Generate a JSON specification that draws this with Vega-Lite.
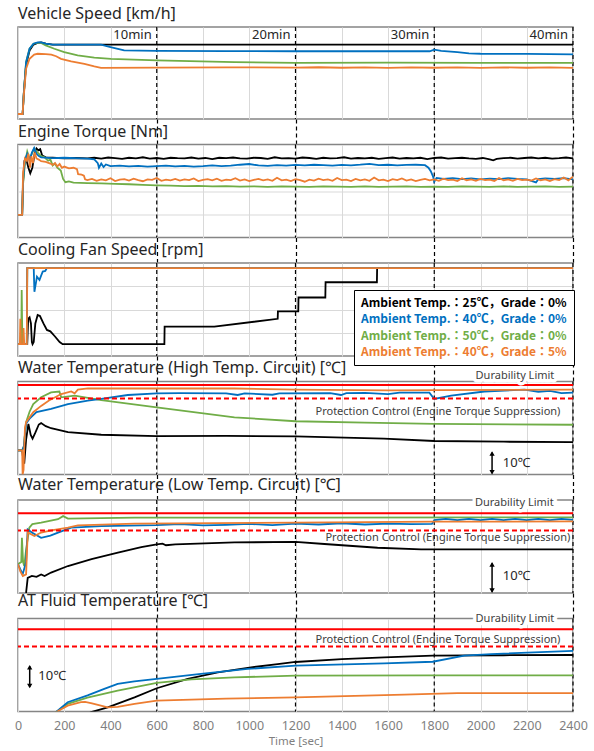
{
"$schema": "https://vega.github.io/schema/vega-lite/v6.json",
"padding": {"left": 13, "top": 5, "right": 2, "bottom": 2},
"bounds": "flush",
"spacing": 25.5,
"resolve": {"scale": {"x": "independent", "y": "independent", "color": "independent"}, "axis": {"x": "independent", "y": "independent"}, "legend": {"color": "independent"}},
"config": {
  "font": "Noto Sans",
  "view": {"stroke": "#858585", "strokeWidth": 1.5},
  "axis": {"gridColor": "#d9d9d9", "gridWidth": 1, "minExtent": 0},
  "title": {"anchor": "start", "frame": "group", "fontSize": 16, "fontWeight": "normal", "color": "#262626", "baseline": "alphabetic", "offset": 4, "font": "Noto Sans, Noto Sans CJK JP"}
},
"datasets": {
  "tm": [{"t":600,"m":"10min"},{"t":1200,"m":"20min"},{"t":1800,"m":"30min"},{"t":2400,"m":"40min"}],
  "spd": [
    {"s":"A","t":0,"v":6},{"s":"A","t":20,"v":6},{"s":"A","t":25,"v":30},{"s":"A","t":35,"v":65},{"s":"A","t":50,"v":82},{"s":"A","t":67,"v":89},{"s":"A","t":85,"v":91},{"s":"A","t":100,"v":91.5},{"s":"A","t":120,"v":90},{"s":"A","t":150,"v":89},{"s":"A","t":400,"v":89},{"s":"A","t":800,"v":89},{"s":"A","t":1200,"v":89},{"s":"A","t":1600,"v":89},{"s":"A","t":2000,"v":89},{"s":"A","t":2400,"v":89},
    {"s":"C","t":0,"v":6},{"s":"C","t":20,"v":6},{"s":"C","t":25,"v":30},{"s":"C","t":35,"v":68},{"s":"C","t":50,"v":84},{"s":"C","t":67,"v":90},{"s":"C","t":85,"v":91},{"s":"C","t":100,"v":91},{"s":"C","t":120,"v":88},{"s":"C","t":157,"v":84},{"s":"C","t":200,"v":80},{"s":"C","t":258,"v":76},{"s":"C","t":330,"v":73.5},{"s":"C","t":402,"v":72},{"s":"C","t":600,"v":70},{"s":"C","t":936,"v":68},{"s":"C","t":1200,"v":67.2},{"s":"C","t":1600,"v":67.3},{"s":"C","t":2000,"v":67.1},{"s":"C","t":2400,"v":67.2},
    {"s":"B","t":0,"v":6},{"s":"B","t":20,"v":6},{"s":"B","t":25,"v":30},{"s":"B","t":35,"v":68},{"s":"B","t":50,"v":84},{"s":"B","t":67,"v":90},{"s":"B","t":85,"v":91.5},{"s":"B","t":100,"v":91.5},{"s":"B","t":120,"v":90},{"s":"B","t":150,"v":89},{"s":"B","t":359,"v":89},{"s":"B","t":400,"v":86},{"s":"B","t":459,"v":82},{"s":"B","t":600,"v":81.5},{"s":"B","t":900,"v":81.2},{"s":"B","t":1200,"v":81},{"s":"B","t":1500,"v":81},{"s":"B","t":1780,"v":81},{"s":"B","t":1800,"v":83},{"s":"B","t":1830,"v":81.5},{"s":"B","t":1900,"v":80},{"s":"B","t":1950,"v":78.5},{"s":"B","t":2000,"v":78},{"s":"B","t":2200,"v":77.8},{"s":"B","t":2400,"v":77.2},
    {"s":"D","t":0,"v":6},{"s":"D","t":20,"v":6},{"s":"D","t":25,"v":28},{"s":"D","t":35,"v":60},{"s":"D","t":50,"v":72},{"s":"D","t":70,"v":77},{"s":"D","t":85,"v":78},{"s":"D","t":120,"v":77.5},{"s":"D","t":144,"v":77},{"s":"D","t":165,"v":75},{"s":"D","t":186,"v":72},{"s":"D","t":230,"v":69},{"s":"D","t":287,"v":66},{"s":"D","t":330,"v":63},{"s":"D","t":359,"v":61.2},{"s":"D","t":600,"v":61.5},{"s":"D","t":900,"v":61.8},{"s":"D","t":1200,"v":61.5},{"s":"D","t":1300,"v":61.9},{"s":"D","t":1400,"v":61.3},{"s":"D","t":1500,"v":61.8},{"s":"D","t":1600,"v":61.2},{"s":"D","t":1700,"v":61.7},{"s":"D","t":1800,"v":61.3},{"s":"D","t":1900,"v":61.8},{"s":"D","t":2000,"v":61.2},{"s":"D","t":2100,"v":61.7},{"s":"D","t":2200,"v":61.3},{"s":"D","t":2300,"v":61.8},{"s":"D","t":2400,"v":61.2}
  ],
  "trq": [
    {"s":"A","t":0,"v":97},{"s":"A","t":18,"v":97},{"s":"A","t":22,"v":240},{"s":"A","t":28,"v":330},{"s":"A","t":35,"v":340},{"s":"A","t":45,"v":300},{"s":"A","t":53,"v":276},{"s":"A","t":62,"v":300},{"s":"A","t":72,"v":360},{"s":"A","t":80,"v":383},{"s":"A","t":88,"v":375},{"s":"A","t":96,"v":380},{"s":"A","t":105,"v":352},{"s":"A","t":120,"v":345},{"s":"A","t":150,"v":343},{"s":"A","t":200,"v":340},{"s":"A","t":250,"v":342},{"s":"A","t":300,"v":340},
    {"s":"A","t":330,"v":343},{"s":"A","t":360,"v":339},{"s":"A","t":390,"v":344},{"s":"A","t":420,"v":341},{"s":"A","t":450,"v":338},{"s":"A","t":480,"v":343},{"s":"A","t":510,"v":340},{"s":"A","t":540,"v":345},{"s":"A","t":570,"v":339},{"s":"A","t":600,"v":342},{"s":"A","t":630,"v":338},{"s":"A","t":660,"v":343},{"s":"A","t":690,"v":341},{"s":"A","t":720,"v":340},{"s":"A","t":750,"v":344},{"s":"A","t":780,"v":339},{"s":"A","t":810,"v":342},{"s":"A","t":840,"v":337},{"s":"A","t":870,"v":343},{"s":"A","t":900,"v":341},{"s":"A","t":930,"v":344},{"s":"A","t":960,"v":340},{"s":"A","t":990,"v":339},{"s":"A","t":1020,"v":343},{"s":"A","t":1050,"v":342},{"s":"A","t":1080,"v":338},{"s":"A","t":1110,"v":345},{"s":"A","t":1140,"v":340},{"s":"A","t":1170,"v":341},{"s":"A","t":1200,"v":339},{"s":"A","t":1230,"v":344},{"s":"A","t":1260,"v":342},{"s":"A","t":1290,"v":338},{"s":"A","t":1320,"v":343},{"s":"A","t":1350,"v":340},{"s":"A","t":1380,"v":341},{"s":"A","t":1410,"v":345},{"s":"A","t":1440,"v":339},{"s":"A","t":1470,"v":342},{"s":"A","t":1500,"v":340},{"s":"A","t":1530,"v":343},{"s":"A","t":1560,"v":338},{"s":"A","t":1590,"v":341},{"s":"A","t":1620,"v":344},{"s":"A","t":1650,"v":339},{"s":"A","t":1680,"v":342},{"s":"A","t":1710,"v":340},{"s":"A","t":1740,"v":343},{"s":"A","t":1770,"v":337},{"s":"A","t":1800,"v":342},{"s":"A","t":1830,"v":344},{"s":"A","t":1860,"v":339},{"s":"A","t":1890,"v":341},{"s":"A","t":1920,"v":343},{"s":"A","t":1950,"v":340},{"s":"A","t":1980,"v":338},{"s":"A","t":2010,"v":342},{"s":"A","t":2040,"v":336},{"s":"A","t":2055,"v":332},{"s":"A","t":2070,"v":338},{"s":"A","t":2100,"v":341},{"s":"A","t":2130,"v":343},{"s":"A","t":2160,"v":339},{"s":"A","t":2190,"v":342},{"s":"A","t":2220,"v":344},{"s":"A","t":2250,"v":340},{"s":"A","t":2280,"v":343},{"s":"A","t":2310,"v":339},{"s":"A","t":2340,"v":341},{"s":"A","t":2370,"v":344},{"s":"A","t":2400,"v":340},
    {"s":"C","t":0,"v":97},{"s":"C","t":18,"v":97},{"s":"C","t":22,"v":230},{"s":"C","t":30,"v":320},{"s":"C","t":40,"v":370},{"s":"C","t":50,"v":340},{"s":"C","t":60,"v":360},{"s":"C","t":70,"v":383},{"s":"C","t":80,"v":370},{"s":"C","t":100,"v":350},{"s":"C","t":115,"v":345},{"s":"C","t":130,"v":330},{"s":"C","t":140,"v":335},{"s":"C","t":150,"v":310},{"s":"C","t":160,"v":318},{"s":"C","t":170,"v":300},{"s":"C","t":185,"v":288},{"s":"C","t":195,"v":252},{"s":"C","t":205,"v":238},{"s":"C","t":220,"v":241},{"s":"C","t":240,"v":236},{"s":"C","t":300,"v":234},{"s":"C","t":360,"v":233},{"s":"C","t":420,"v":231},{"s":"C","t":480,"v":229},{"s":"C","t":540,"v":226},{"s":"C","t":600,"v":224},{"s":"C","t":660,"v":223},{"s":"C","t":720,"v":221},{"s":"C","t":780,"v":222},{"s":"C","t":840,"v":220},{"s":"C","t":900,"v":221},{"s":"C","t":960,"v":219},{"s":"C","t":1020,"v":220},{"s":"C","t":1080,"v":218},{"s":"C","t":1140,"v":220},{"s":"C","t":1200,"v":219},{"s":"C","t":1260,"v":218},{"s":"C","t":1320,"v":220},{"s":"C","t":1380,"v":219},{"s":"C","t":1440,"v":218},{"s":"C","t":1500,"v":220},{"s":"C","t":1560,"v":218},{"s":"C","t":1620,"v":219},{"s":"C","t":1680,"v":220},{"s":"C","t":1740,"v":218},{"s":"C","t":1800,"v":219},{"s":"C","t":1860,"v":218},{"s":"C","t":1920,"v":220},{"s":"C","t":1980,"v":219},{"s":"C","t":2040,"v":218},{"s":"C","t":2100,"v":220},{"s":"C","t":2160,"v":218},{"s":"C","t":2220,"v":219},{"s":"C","t":2280,"v":220},{"s":"C","t":2340,"v":218},{"s":"C","t":2400,"v":219},
    {"s":"B","t":0,"v":97},{"s":"B","t":18,"v":97},{"s":"B","t":22,"v":250},{"s":"B","t":30,"v":335},{"s":"B","t":40,"v":360},{"s":"B","t":50,"v":330},{"s":"B","t":60,"v":365},{"s":"B","t":70,"v":385},{"s":"B","t":80,"v":360},{"s":"B","t":90,"v":350},{"s":"B","t":100,"v":345},{"s":"B","t":150,"v":341},{"s":"B","t":200,"v":343},{"s":"B","t":250,"v":341},{"s":"B","t":300,"v":339},{"s":"B","t":330,"v":336},{"s":"B","t":345,"v":320},{"s":"B","t":350,"v":300},{"s":"B","t":360,"v":318},{"s":"B","t":370,"v":303},{"s":"B","t":380,"v":314},{"s":"B","t":400,"v":307},{"s":"B","t":440,"v":309},{"s":"B","t":480,"v":306},{"s":"B","t":520,"v":308},{"s":"B","t":560,"v":305},{"s":"B","t":600,"v":307},{"s":"B","t":640,"v":309},{"s":"B","t":680,"v":306},{"s":"B","t":720,"v":308},{"s":"B","t":760,"v":305},{"s":"B","t":800,"v":307},{"s":"B","t":840,"v":310},{"s":"B","t":880,"v":307},{"s":"B","t":920,"v":309},{"s":"B","t":960,"v":313},{"s":"B","t":1000,"v":316},{"s":"B","t":1040,"v":310},{"s":"B","t":1080,"v":308},{"s":"B","t":1120,"v":311},{"s":"B","t":1160,"v":309},{"s":"B","t":1200,"v":312},{"s":"B","t":1240,"v":310},{"s":"B","t":1280,"v":313},{"s":"B","t":1320,"v":311},{"s":"B","t":1360,"v":309},{"s":"B","t":1400,"v":312},{"s":"B","t":1440,"v":310},{"s":"B","t":1480,"v":313},{"s":"B","t":1520,"v":317},{"s":"B","t":1560,"v":311},{"s":"B","t":1600,"v":313},{"s":"B","t":1640,"v":310},{"s":"B","t":1680,"v":312},{"s":"B","t":1720,"v":313},{"s":"B","t":1760,"v":311},{"s":"B","t":1775,"v":300},{"s":"B","t":1785,"v":285},{"s":"B","t":1795,"v":262},{"s":"B","t":1800,"v":240},{"s":"B","t":1810,"v":256},{"s":"B","t":1840,"v":252},{"s":"B","t":1880,"v":255},{"s":"B","t":1920,"v":251},{"s":"B","t":1960,"v":254},{"s":"B","t":2000,"v":250},{"s":"B","t":2040,"v":253},{"s":"B","t":2080,"v":251},{"s":"B","t":2120,"v":255},{"s":"B","t":2160,"v":252},{"s":"B","t":2200,"v":250},{"s":"B","t":2240,"v":237},{"s":"B","t":2250,"v":251},{"s":"B","t":2280,"v":254},{"s":"B","t":2320,"v":252},{"s":"B","t":2360,"v":255},{"s":"B","t":2400,"v":250},
    {"s":"D","t":0,"v":97},{"s":"D","t":18,"v":97},{"s":"D","t":22,"v":280},{"s":"D","t":30,"v":340},{"s":"D","t":38,"v":330},{"s":"D","t":45,"v":360},{"s":"D","t":52,"v":300},{"s":"D","t":58,"v":350},{"s":"D","t":65,"v":320},{"s":"D","t":72,"v":365},{"s":"D","t":80,"v":340},{"s":"D","t":90,"v":335},{"s":"D","t":100,"v":328},{"s":"D","t":120,"v":325},{"s":"D","t":140,"v":318},{"s":"D","t":150,"v":312},{"s":"D","t":160,"v":320},{"s":"D","t":170,"v":306},{"s":"D","t":180,"v":316},{"s":"D","t":190,"v":300},{"s":"D","t":200,"v":305},{"s":"D","t":220,"v":297},{"s":"D","t":240,"v":300},{"s":"D","t":255,"v":294},{"s":"D","t":260,"v":272},{"s":"D","t":275,"v":270},{"s":"D","t":285,"v":266},{"s":"D","t":290,"v":250},
    {"s":"D","t":300,"v":247},{"s":"D","t":320,"v":252},{"s":"D","t":340,"v":244},{"s":"D","t":360,"v":250},{"s":"D","t":380,"v":246},{"s":"D","t":400,"v":255},{"s":"D","t":420,"v":243},{"s":"D","t":440,"v":249},{"s":"D","t":460,"v":251},{"s":"D","t":480,"v":245},{"s":"D","t":500,"v":253},{"s":"D","t":520,"v":247},{"s":"D","t":540,"v":242},{"s":"D","t":560,"v":250},{"s":"D","t":580,"v":248},{"s":"D","t":600,"v":256},{"s":"D","t":620,"v":244},{"s":"D","t":640,"v":249},{"s":"D","t":660,"v":246},{"s":"D","t":680,"v":252},{"s":"D","t":700,"v":245},{"s":"D","t":720,"v":250},{"s":"D","t":740,"v":247},{"s":"D","t":760,"v":254},{"s":"D","t":780,"v":243},{"s":"D","t":800,"v":248},{"s":"D","t":820,"v":251},{"s":"D","t":840,"v":246},{"s":"D","t":860,"v":253},{"s":"D","t":880,"v":244},{"s":"D","t":900,"v":249},{"s":"D","t":920,"v":247},{"s":"D","t":940,"v":255},{"s":"D","t":960,"v":245},{"s":"D","t":980,"v":250},{"s":"D","t":1000,"v":243},{"s":"D","t":1020,"v":248},{"s":"D","t":1040,"v":252},{"s":"D","t":1060,"v":246},{"s":"D","t":1080,"v":250},{"s":"D","t":1100,"v":244},{"s":"D","t":1120,"v":257},{"s":"D","t":1140,"v":246},{"s":"D","t":1160,"v":249},{"s":"D","t":1180,"v":243},{"s":"D","t":1200,"v":251},{"s":"D","t":1220,"v":247},{"s":"D","t":1240,"v":240},{"s":"D","t":1260,"v":249},{"s":"D","t":1280,"v":245},{"s":"D","t":1300,"v":253},{"s":"D","t":1320,"v":247},{"s":"D","t":1340,"v":250},{"s":"D","t":1360,"v":244},{"s":"D","t":1380,"v":256},{"s":"D","t":1400,"v":247},{"s":"D","t":1420,"v":249},{"s":"D","t":1440,"v":243},{"s":"D","t":1460,"v":252},{"s":"D","t":1480,"v":246},{"s":"D","t":1500,"v":250},{"s":"D","t":1520,"v":244},{"s":"D","t":1540,"v":258},{"s":"D","t":1560,"v":246},{"s":"D","t":1580,"v":249},{"s":"D","t":1600,"v":243},{"s":"D","t":1620,"v":251},{"s":"D","t":1640,"v":247},{"s":"D","t":1660,"v":254},{"s":"D","t":1680,"v":245},{"s":"D","t":1700,"v":250},{"s":"D","t":1720,"v":243},{"s":"D","t":1740,"v":248},{"s":"D","t":1760,"v":252},{"s":"D","t":1780,"v":246},{"s":"D","t":1800,"v":250},{"s":"D","t":1820,"v":244},{"s":"D","t":1840,"v":253},{"s":"D","t":1860,"v":247},{"s":"D","t":1880,"v":249},{"s":"D","t":1900,"v":243},{"s":"D","t":1920,"v":255},{"s":"D","t":1940,"v":246},{"s":"D","t":1960,"v":250},{"s":"D","t":1980,"v":244},{"s":"D","t":2000,"v":252},{"s":"D","t":2020,"v":247},{"s":"D","t":2040,"v":249},{"s":"D","t":2060,"v":243},{"s":"D","t":2080,"v":256},{"s":"D","t":2100,"v":246},{"s":"D","t":2120,"v":250},{"s":"D","t":2140,"v":244},{"s":"D","t":2160,"v":252},{"s":"D","t":2180,"v":247},{"s":"D","t":2200,"v":249},{"s":"D","t":2220,"v":245},{"s":"D","t":2240,"v":254},{"s":"D","t":2260,"v":246},{"s":"D","t":2280,"v":250},{"s":"D","t":2300,"v":243},{"s":"D","t":2320,"v":251},{"s":"D","t":2340,"v":247},{"s":"D","t":2360,"v":258},{"s":"D","t":2380,"v":246},{"s":"D","t":2400,"v":262}
  ],
  "fan": [
    {"s":"A","t":0,"v":255},{"s":"A","t":40,"v":255},{"s":"A","t":44,"v":800},{"s":"A","t":50,"v":830},{"s":"A","t":56,"v":700},{"s":"A","t":60,"v":300},{"s":"A","t":63,"v":255},{"s":"A","t":68,"v":300},{"s":"A","t":75,"v":700},{"s":"A","t":85,"v":880},{"s":"A","t":95,"v":860},{"s":"A","t":110,"v":700},{"s":"A","t":125,"v":560},{"s":"A","t":140,"v":530},{"s":"A","t":160,"v":420},{"s":"A","t":180,"v":300},{"s":"A","t":193,"v":255},{"s":"A","t":633,"v":255},{"s":"A","t":634,"v":632},{"s":"A","t":849,"v":632},{"s":"A","t":1123,"v":800},{"s":"A","t":1124,"v":960},{"s":"A","t":1212,"v":960},{"s":"A","t":1213,"v":1258},{"s":"A","t":1329,"v":1258},{"s":"A","t":1330,"v":1586},{"s":"A","t":1552,"v":1586},{"s":"A","t":1553,"v":1890},{"s":"A","t":2400,"v":1890},
    {"s":"C","t":0,"v":255},{"s":"C","t":14,"v":255},{"s":"C","t":16,"v":1418},{"s":"C","t":19,"v":255},{"s":"C","t":38,"v":255},{"s":"C","t":40,"v":1890},{"s":"C","t":2400,"v":1890},
    {"s":"B","t":0,"v":255},{"s":"B","t":38,"v":255},{"s":"B","t":40,"v":1890},{"s":"B","t":68,"v":1890},{"s":"B","t":71,"v":1380},{"s":"B","t":82,"v":1707},{"s":"B","t":93,"v":1636},{"s":"B","t":107,"v":1817},{"s":"B","t":118,"v":1830},{"s":"B","t":125,"v":1890},{"s":"B","t":2400,"v":1890},
    {"s":"D","t":0,"v":255},{"s":"D","t":8,"v":255},{"s":"D","t":10,"v":800},{"s":"D","t":13,"v":255},{"s":"D","t":22,"v":255},{"s":"D","t":24,"v":600},{"s":"D","t":27,"v":255},{"s":"D","t":38,"v":255},{"s":"D","t":40,"v":1890},{"s":"D","t":2400,"v":1890}
  ],
  "wh": [
    {"s":"A","t":0,"v":60.4},{"s":"A","t":18,"v":60.4},{"s":"A","t":22,"v":57},{"s":"A","t":27,"v":54.7},{"s":"A","t":35,"v":65},{"s":"A","t":45,"v":71.8},{"s":"A","t":55,"v":67},{"s":"A","t":63,"v":65.4},{"s":"A","t":75,"v":68},{"s":"A","t":90,"v":71.5},{"s":"A","t":100,"v":72.1},{"s":"A","t":120,"v":70.8},{"s":"A","t":143,"v":69.9},{"s":"A","t":216,"v":68.2},{"s":"A","t":360,"v":67.1},{"s":"A","t":600,"v":66.5},{"s":"A","t":900,"v":66.6},{"s":"A","t":1200,"v":66.4},{"s":"A","t":1582,"v":65.4},{"s":"A","t":1800,"v":64.4},{"s":"A","t":2100,"v":64.1},{"s":"A","t":2400,"v":63.9},
    {"s":"C","t":0,"v":60.4},{"s":"C","t":18,"v":60.4},{"s":"C","t":25,"v":62},{"s":"C","t":35,"v":72.5},{"s":"C","t":50,"v":77},{"s":"C","t":66,"v":80.3},{"s":"C","t":100,"v":83.2},{"s":"C","t":143,"v":85.3},{"s":"C","t":179,"v":85.7},{"s":"C","t":187,"v":83.2},{"s":"C","t":245,"v":83.9},{"s":"C","t":360,"v":82},{"s":"C","t":600,"v":78.9},{"s":"C","t":936,"v":74.6},{"s":"C","t":1200,"v":72.9},{"s":"C","t":1500,"v":72.3},{"s":"C","t":1800,"v":71.8},{"s":"C","t":2400,"v":71.4},
    {"s":"B","t":0,"v":60.4},{"s":"B","t":18,"v":60.4},{"s":"B","t":25,"v":62},{"s":"B","t":35,"v":72},{"s":"B","t":50,"v":74},{"s":"B","t":80,"v":76.8},{"s":"B","t":143,"v":78.2},{"s":"B","t":216,"v":80.3},{"s":"B","t":302,"v":81.8},{"s":"B","t":360,"v":82.5},{"s":"B","t":475,"v":84.2},{"s":"B","t":600,"v":84.9},{"s":"B","t":700,"v":85},{"s":"B","t":900,"v":84.9},{"s":"B","t":950,"v":84.2},{"s":"B","t":980,"v":84.9},{"s":"B","t":1100,"v":84.3},{"s":"B","t":1130,"v":84.9},{"s":"B","t":1350,"v":85},{"s":"B","t":1397,"v":84.2},{"s":"B","t":1420,"v":85},{"s":"B","t":1500,"v":85.1},{"s":"B","t":1600,"v":84.6},{"s":"B","t":1650,"v":85.2},{"s":"B","t":1779,"v":85.2},{"s":"B","t":1800,"v":82.5},{"s":"B","t":1873,"v":83.9},{"s":"B","t":2017,"v":85.7},{"s":"B","t":2190,"v":86.5},{"s":"B","t":2250,"v":85.6},{"s":"B","t":2300,"v":86},{"s":"B","t":2350,"v":85},{"s":"B","t":2400,"v":85.2},
    {"s":"D","t":0,"v":60.4},{"s":"D","t":18,"v":60.4},{"s":"D","t":20,"v":50},{"s":"D","t":24,"v":52},{"s":"D","t":30,"v":70},{"s":"D","t":35,"v":72.5},{"s":"D","t":66,"v":76.8},{"s":"D","t":100,"v":79.5},{"s":"D","t":134,"v":81.8},{"s":"D","t":187,"v":84.6},{"s":"D","t":230,"v":85.7},{"s":"D","t":245,"v":84.9},{"s":"D","t":259,"v":86.5},{"s":"D","t":302,"v":87},{"s":"D","t":936,"v":87},{"s":"D","t":1200,"v":86.5},{"s":"D","t":1600,"v":86.2},{"s":"D","t":1800,"v":86.3},{"s":"D","t":2400,"v":86.5}
  ],
  "wl": [
    {"s":"A","t":30,"v":28},{"s":"A","t":35,"v":30.1},{"s":"A","t":42,"v":34.9},{"s":"A","t":60,"v":35.5},{"s":"A","t":80,"v":35.2},{"s":"A","t":100,"v":36},{"s":"A","t":115,"v":35.5},{"s":"A","t":143,"v":36.6},{"s":"A","t":216,"v":38.7},{"s":"A","t":318,"v":40.9},{"s":"A","t":432,"v":43},{"s":"A","t":533,"v":44.8},{"s":"A","t":600,"v":45.7},{"s":"A","t":625,"v":45.9},{"s":"A","t":640,"v":45.4},{"s":"A","t":680,"v":45.7},{"s":"A","t":936,"v":46.3},{"s":"A","t":1200,"v":46.5},{"s":"A","t":1325,"v":45.8},{"s":"A","t":1555,"v":44.6},{"s":"A","t":1743,"v":44.1},{"s":"A","t":2400,"v":44.1},
    {"s":"C","t":0,"v":39.3},{"s":"C","t":14,"v":40},{"s":"C","t":17,"v":47.8},{"s":"C","t":22,"v":40},{"s":"C","t":27,"v":38.7},{"s":"C","t":35,"v":44},{"s":"C","t":49,"v":51.1},{"s":"C","t":62,"v":52.2},{"s":"C","t":100,"v":52.7},{"s":"C","t":173,"v":53.8},{"s":"C","t":195,"v":54.8},{"s":"C","t":216,"v":54},{"s":"C","t":504,"v":54.3},{"s":"C","t":1200,"v":54.3},{"s":"C","t":2400,"v":54.4},
    {"s":"B","t":0,"v":39.3},{"s":"B","t":20,"v":36},{"s":"B","t":35,"v":40},{"s":"B","t":42,"v":50.5},{"s":"B","t":60,"v":49.5},{"s":"B","t":100,"v":47.8},{"s":"B","t":140,"v":48.5},{"s":"B","t":173,"v":49.5},{"s":"B","t":230,"v":51.1},{"s":"B","t":360,"v":51.6},{"s":"B","t":600,"v":51.9},{"s":"B","t":700,"v":52.2},{"s":"B","t":800,"v":51.8},{"s":"B","t":900,"v":52},{"s":"B","t":1000,"v":52.3},{"s":"B","t":1100,"v":51.9},{"s":"B","t":1200,"v":52.4},{"s":"B","t":1300,"v":52.1},{"s":"B","t":1400,"v":52.5},{"s":"B","t":1500,"v":52.1},{"s":"B","t":1600,"v":52.4},{"s":"B","t":1700,"v":52.2},{"s":"B","t":1790,"v":52.3},{"s":"B","t":1800,"v":53.5},{"s":"B","t":1850,"v":53.9},{"s":"B","t":1900,"v":53.5},{"s":"B","t":1950,"v":53.9},{"s":"B","t":2000,"v":53.5},{"s":"B","t":2050,"v":53.9},{"s":"B","t":2100,"v":53.5},{"s":"B","t":2150,"v":53.9},{"s":"B","t":2200,"v":53.5},{"s":"B","t":2250,"v":53.9},{"s":"B","t":2300,"v":53.5},{"s":"B","t":2350,"v":53.9},{"s":"B","t":2400,"v":53.6},
    {"s":"D","t":0,"v":39.3},{"s":"D","t":10,"v":37},{"s":"D","t":21,"v":35.5},{"s":"D","t":35,"v":36},{"s":"D","t":42,"v":49.5},{"s":"D","t":71,"v":48.4},{"s":"D","t":100,"v":49.5},{"s":"D","t":150,"v":50.3},{"s":"D","t":216,"v":51.1},{"s":"D","t":259,"v":51.8},{"s":"D","t":504,"v":52.4},{"s":"D","t":1200,"v":52.7},{"s":"D","t":1800,"v":53},{"s":"D","t":2400,"v":53.1}
  ],
  "at": [
    {"s":"A","t":250,"v":36},{"s":"A","t":316,"v":39.7},{"s":"A","t":388,"v":41.8},{"s":"A","t":504,"v":46.1},{"s":"A","t":600,"v":50},{"s":"A","t":734,"v":54},{"s":"A","t":864,"v":56.8},{"s":"A","t":1008,"v":59},{"s":"A","t":1123,"v":60.4},{"s":"A","t":1200,"v":61.3},{"s":"A","t":1400,"v":62.5},{"s":"A","t":1584,"v":63.3},{"s":"A","t":1793,"v":64},{"s":"A","t":2100,"v":64.2},{"s":"A","t":2400,"v":64.3},
    {"s":"C","t":150,"v":38},{"s":"C","t":164,"v":39.7},{"s":"C","t":215,"v":43.3},{"s":"C","t":300,"v":46},{"s":"C","t":431,"v":49},{"s":"C","t":600,"v":52.3},{"s":"C","t":750,"v":53.8},{"s":"C","t":935,"v":54.7},{"s":"C","t":1200,"v":55.4},{"s":"C","t":1800,"v":55.5},{"s":"C","t":2400,"v":55.5},
    {"s":"B","t":150,"v":38},{"s":"B","t":164,"v":39.7},{"s":"B","t":215,"v":44},{"s":"B","t":301,"v":46.9},{"s":"B","t":373,"v":49.7},{"s":"B","t":431,"v":51.9},{"s":"B","t":503,"v":53},{"s":"B","t":600,"v":54},{"s":"B","t":791,"v":56.2},{"s":"B","t":993,"v":58.3},{"s":"B","t":1200,"v":59.7},{"s":"B","t":1584,"v":60.7},{"s":"B","t":1793,"v":61.4},{"s":"B","t":1930,"v":64},{"s":"B","t":2045,"v":64.7},{"s":"B","t":2400,"v":66.1},
    {"s":"D","t":150,"v":38.5},{"s":"D","t":164,"v":39.7},{"s":"D","t":215,"v":42.5},{"s":"D","t":272,"v":44},{"s":"D","t":290,"v":44.1},{"s":"D","t":320,"v":43.5},{"s":"D","t":388,"v":41.8},{"s":"D","t":431,"v":42},{"s":"D","t":504,"v":43.3},{"s":"D","t":600,"v":44.7},{"s":"D","t":900,"v":45.5},{"s":"D","t":1200,"v":46.1},{"s":"D","t":1670,"v":47.3},{"s":"D","t":1900,"v":47.9},{"s":"D","t":2400,"v":47.9}
  ]
},
"vconcat": [
  {
    "width": 555, "height": 92,
    "title": {"text": "Vehicle Speed [km/h]"},
    "resolve": {"axis": {"x": "independent"}},
    "layer": [
      {"data": {"name": "tm"}, "mark": {"type": "rule", "color": "#000000", "strokeWidth": 1.2, "strokeDash": [4, 3]},
       "encoding": {"x": {"field": "t", "type": "quantitative", "scale": {"domain": [0, 2400], "nice": false}, "axis": {"orient": "bottom", "values": [600, 1200, 1800, 2400], "grid": false, "labels": false, "ticks": true, "tickSize": 26, "tickColor": "#000000", "tickWidth": 1.2, "tickDash": [4, 3], "domain": false, "title": null}}}},
      {"data": {"name": "spd"}, "mark": {"type": "line", "strokeWidth": 1.8, "clip": true},
       "encoding": {
         "x": {"field": "t", "type": "quantitative", "axis": {"orient": "top", "values": [0,200,400,600,800,1000,1200,1400,1600,1800,2000,2200,2400], "grid": true, "labels": false, "ticks": false, "domain": false, "title": null}},
         "y": {"field": "v", "type": "quantitative", "scale": {"domain": [0, 110], "nice": false, "zero": false}, "axis": {"values": [30, 60, 90], "grid": true, "labels": false, "ticks": false, "domain": false, "title": null}},
         "color": {"field": "s", "type": "nominal", "scale": {"domain": ["A","B","C","D"], "range": ["#000000","#0070C0","#70AD47","#ED7D31"]}, "legend": null}}},
      {"data": {"name": "tm"}, "mark": {"type": "text", "align": "right", "dx": -5, "baseline": "middle", "fontSize": 13, "color": "#262626"},
       "encoding": {"x": {"field": "t", "type": "quantitative", "axis": null}, "y": {"datum": 101, "type": "quantitative", "axis": null}, "text": {"field": "m"}}}
    ]
  },
  {
    "width": 555, "height": 93,
    "title": {"text": "Engine Torque [Nm]"},
    "resolve": {"axis": {"x": "independent"}},
    "layer": [
      {"data": {"name": "tm"}, "mark": {"type": "rule", "color": "#000000", "strokeWidth": 1.2, "strokeDash": [4, 3]},
       "encoding": {"x": {"field": "t", "type": "quantitative", "scale": {"domain": [0, 2400], "nice": false}, "axis": {"orient": "bottom", "values": [600, 1200, 1800, 2400], "grid": false, "labels": false, "ticks": true, "tickSize": 26, "tickColor": "#000000", "tickWidth": 1.2, "tickDash": [4, 3], "domain": false, "title": null}}}},
      {"data": {"name": "trq"}, "mark": {"type": "line", "strokeWidth": 1.8, "clip": true},
       "encoding": {
         "x": {"field": "t", "type": "quantitative", "axis": {"orient": "top", "values": [0,200,400,600,800,1000,1200,1400,1600,1800,2000,2200,2400], "grid": true, "labels": false, "ticks": false, "domain": false, "title": null}},
         "y": {"field": "v", "type": "quantitative", "scale": {"domain": [0, 400], "nice": false, "zero": false}, "axis": {"values": [100, 200, 300], "grid": true, "labels": false, "ticks": false, "domain": false, "title": null}},
         "color": {"field": "s", "type": "nominal", "scale": {"domain": ["A","B","C","D"], "range": ["#000000","#0070C0","#70AD47","#ED7D31"]}, "legend": null}}}
    ]
  },
  {
    "width": 555, "height": 93,
    "title": {"text": "Cooling Fan Speed [rpm]"},
    "resolve": {"axis": {"x": "independent"}},
    "layer": [
      {"data": {"name": "tm"}, "mark": {"type": "rule", "color": "#000000", "strokeWidth": 1.2, "strokeDash": [4, 3]},
       "encoding": {"x": {"field": "t", "type": "quantitative", "scale": {"domain": [0, 2400], "nice": false}, "axis": {"orient": "bottom", "values": [600, 1200, 1800, 2400], "grid": false, "labels": false, "ticks": true, "tickSize": 26, "tickColor": "#000000", "tickWidth": 1.2, "tickDash": [4, 3], "domain": false, "title": null}}}},
      {"data": {"name": "fan"}, "mark": {"type": "line", "strokeWidth": 1.8, "clip": true},
       "encoding": {
         "x": {"field": "t", "type": "quantitative", "axis": {"orient": "top", "values": [0,200,400,600,800,1000,1200,1400,1600,1800,2000,2200,2400], "grid": true, "labels": false, "ticks": false, "domain": false, "title": null}},
         "y": {"field": "v", "type": "quantitative", "scale": {"domain": [0, 2000], "nice": false, "zero": false}, "axis": {"values": [500, 1000, 1500], "grid": true, "labels": false, "ticks": false, "domain": false, "title": null}},
         "color": {"field": "s", "type": "nominal", "scale": {"domain": ["A","B","C","D"], "range": ["#000000","#0070C0","#70AD47","#ED7D31"]},
           "legend": {"orient": "none", "legendX": 336, "legendY": 27, "title": null, "direction": "vertical",
             "labelExpr": "datum.value == 'A' ? 'Ambient Temp.：25℃，Grade：0%' : datum.value == 'B' ? 'Ambient Temp.：40℃，Grade：0%' : datum.value == 'C' ? 'Ambient Temp.：50℃，Grade：0%' : 'Ambient Temp.：40℃，Grade：5%'",
             "labelColor": {"expr": "datum.value == 'A' ? '#000000' : datum.value == 'B' ? '#0070C0' : datum.value == 'C' ? '#70AD47' : '#ED7D31'"},
             "labelFont": "Noto Sans CJK JP", "labelFontSize": 12, "labelFontWeight": "bold", "labelLimit": 400, "labelOffset": -12,
             "symbolSize": 0, "symbolOpacity": 0, "symbolStrokeWidth": 0, "rowPadding": 4.3, "padding": 7,
             "strokeColor": "#000000", "fillColor": "#ffffff"}}}}
    ]
  },
  {
    "width": 555, "height": 93,
    "title": {"text": "Water Temperature (High Temp. Circuit) [℃]", "offset": -6},
    "resolve": {"axis": {"x": "independent"}},
    "layer": [
      {"data": {"name": "tm"}, "mark": {"type": "rule", "color": "#000000", "strokeWidth": 1.2, "strokeDash": [4, 3]},
       "encoding": {"x": {"field": "t", "type": "quantitative", "scale": {"domain": [0, 2400], "nice": false}, "axis": {"orient": "bottom", "values": [600, 1200, 1800, 2400], "grid": false, "labels": false, "ticks": true, "tickSize": 26, "tickColor": "#000000", "tickWidth": 1.2, "tickDash": [4, 3], "domain": false, "title": null}}}},
      {"data": {"name": "wh"}, "mark": {"type": "line", "strokeWidth": 1.8, "clip": true},
       "encoding": {
         "x": {"field": "t", "type": "quantitative", "axis": {"orient": "top", "values": [0,200,400,600,800,1000,1200,1400,1600,1800,2000,2200,2400], "grid": true, "labels": false, "ticks": false, "domain": false, "title": null}},
         "y": {"field": "v", "type": "quantitative", "scale": {"domain": [50, 90], "nice": false, "zero": false}, "axis": {"values": [60, 70, 80], "grid": true, "labels": false, "ticks": false, "domain": false, "title": null}},
         "color": {"field": "s", "type": "nominal", "scale": {"domain": ["A","B","C","D"], "range": ["#000000","#0070C0","#70AD47","#ED7D31"]}, "legend": null}}},
      {"data": {"values": [{"v": 88.5, "k": "d"}, {"v": 82.7, "k": "p"}]}, "mark": {"type": "rule", "color": "#ff0000", "strokeWidth": 2},
       "encoding": {"y": {"field": "v", "type": "quantitative", "axis": null}, "strokeDash": {"field": "k", "type": "nominal", "scale": {"domain": ["d", "p"], "range": [[1, 0], [5, 3]]}, "legend": null}}},
      {"data": {"values": [{"t": 2149, "v": 92.4, "lab": "Durability Limit"}]}, "mark": {"type": "text", "align": "center", "baseline": "middle", "fontSize": 11, "fill": "#ffffff", "stroke": "#ffffff", "strokeWidth": 7, "strokeJoin": "round"},
       "encoding": {"x": {"field": "t", "type": "quantitative", "axis": null}, "y": {"field": "v", "type": "quantitative", "axis": null}, "text": {"field": "lab"}}},
      {"data": {"values": [{"t": 2149, "v": 92.4, "lab": "Durability Limit"}, {"t": 1816, "v": 77.05, "lab": "Protection Control (Engine Torque Suppression)"}]}, "mark": {"type": "text", "align": "center", "baseline": "middle", "fontSize": 11, "color": "#404040"},
       "encoding": {"x": {"field": "t", "type": "quantitative", "axis": null}, "y": {"field": "v", "type": "quantitative", "axis": null}, "text": {"field": "lab"}}},
      {"data": {"values": [{"t": 2050, "lo": 50.5, "hi": 59.5}]}, "mark": {"type": "rule", "color": "#000000", "strokeWidth": 1.5},
       "encoding": {"x": {"field": "t", "type": "quantitative", "axis": null}, "y": {"field": "lo", "type": "quantitative", "axis": null}, "y2": {"field": "hi"}}},
      {"data": {"values": [{"t": 2050, "v": 59, "sh": "triangle-up"}, {"t": 2050, "v": 51, "sh": "triangle-down"}]}, "mark": {"type": "point", "filled": true, "color": "#000000", "size": 28, "opacity": 1},
       "encoding": {"x": {"field": "t", "type": "quantitative", "axis": null}, "y": {"field": "v", "type": "quantitative", "axis": null}, "shape": {"field": "sh", "type": "nominal", "scale": null}}},
      {"data": {"values": [{"t": 2096, "v": 54.8, "lab": "10℃"}]}, "mark": {"type": "text", "align": "left", "baseline": "middle", "fontSize": 13, "color": "#262626"},
       "encoding": {"x": {"field": "t", "type": "quantitative", "axis": null}, "y": {"field": "v", "type": "quantitative", "axis": null}, "text": {"field": "lab"}}}
    ]
  },
  {
    "width": 555, "height": 93,
    "title": {"text": "Water Temperature (Low Temp. Circuit) [℃]"},
    "resolve": {"axis": {"x": "independent"}},
    "layer": [
      {"data": {"name": "tm"}, "mark": {"type": "rule", "color": "#000000", "strokeWidth": 1.2, "strokeDash": [4, 3]},
       "encoding": {"x": {"field": "t", "type": "quantitative", "scale": {"domain": [0, 2400], "nice": false}, "axis": {"orient": "bottom", "values": [600, 1200, 1800, 2400], "grid": false, "labels": false, "ticks": true, "tickSize": 26, "tickColor": "#000000", "tickWidth": 1.2, "tickDash": [4, 3], "domain": false, "title": null}}}},
      {"data": {"name": "wl"}, "mark": {"type": "line", "strokeWidth": 1.8, "clip": true},
       "encoding": {
         "x": {"field": "t", "type": "quantitative", "axis": {"orient": "top", "values": [0,200,400,600,800,1000,1200,1400,1600,1800,2000,2200,2400], "grid": true, "labels": false, "ticks": false, "domain": false, "title": null}},
         "y": {"field": "v", "type": "quantitative", "scale": {"domain": [30, 60], "nice": false, "zero": false}, "axis": {"values": [40, 50], "grid": true, "labels": false, "ticks": false, "domain": false, "title": null}},
         "color": {"field": "s", "type": "nominal", "scale": {"domain": ["A","B","C","D"], "range": ["#000000","#0070C0","#70AD47","#ED7D31"]}, "legend": null}}},
      {"data": {"values": [{"v": 55.7, "k": "d"}, {"v": 50.2, "k": "p"}]}, "mark": {"type": "rule", "color": "#ff0000", "strokeWidth": 2},
       "encoding": {"y": {"field": "v", "type": "quantitative", "axis": null}, "strokeDash": {"field": "k", "type": "nominal", "scale": {"domain": ["d", "p"], "range": [[1, 0], [5, 3]]}, "legend": null}}},
      {"data": {"values": [{"t": 2146, "v": 59.1, "lab": "Durability Limit"}]}, "mark": {"type": "text", "align": "center", "baseline": "middle", "fontSize": 11, "fill": "#ffffff", "stroke": "#ffffff", "strokeWidth": 7, "strokeJoin": "round"},
       "encoding": {"x": {"field": "t", "type": "quantitative", "axis": null}, "y": {"field": "v", "type": "quantitative", "axis": null}, "text": {"field": "lab"}}},
      {"data": {"values": [{"t": 2146, "v": 59.1, "lab": "Durability Limit"}, {"t": 1859, "v": 47.6, "lab": "Protection Control (Engine Torque Suppression)"}]}, "mark": {"type": "text", "align": "center", "baseline": "middle", "fontSize": 11, "color": "#404040"},
       "encoding": {"x": {"field": "t", "type": "quantitative", "axis": null}, "y": {"field": "v", "type": "quantitative", "axis": null}, "text": {"field": "lab"}}},
      {"data": {"values": [{"t": 2050, "lo": 30.4, "hi": 39.6}]}, "mark": {"type": "rule", "color": "#000000", "strokeWidth": 1.5},
       "encoding": {"x": {"field": "t", "type": "quantitative", "axis": null}, "y": {"field": "lo", "type": "quantitative", "axis": null}, "y2": {"field": "hi"}}},
      {"data": {"values": [{"t": 2050, "v": 39.24, "sh": "triangle-up"}, {"t": 2050, "v": 30.76, "sh": "triangle-down"}]}, "mark": {"type": "point", "filled": true, "color": "#000000", "size": 28, "opacity": 1},
       "encoding": {"x": {"field": "t", "type": "quantitative", "axis": null}, "y": {"field": "v", "type": "quantitative", "axis": null}, "shape": {"field": "sh", "type": "nominal", "scale": null}}},
      {"data": {"values": [{"t": 2096, "v": 35.5, "lab": "10℃"}]}, "mark": {"type": "text", "align": "left", "baseline": "middle", "fontSize": 13, "color": "#262626"},
       "encoding": {"x": {"field": "t", "type": "quantitative", "axis": null}, "y": {"field": "v", "type": "quantitative", "axis": null}, "text": {"field": "lab"}}}
    ]
  },
  {
    "width": 555, "height": 93,
    "title": {"text": "AT Fluid Temperature [℃]"},
    "resolve": {"axis": {"x": "independent"}},
    "layer": [
      {"data": {"name": "tm"}, "mark": {"type": "rule", "color": "#000000", "strokeWidth": 1.2, "strokeDash": [4, 3]},
       "encoding": {"x": {"field": "t", "type": "quantitative", "scale": {"domain": [0, 2400], "nice": false}, "axis": null}}},
      {"data": {"name": "at"}, "mark": {"type": "line", "strokeWidth": 1.8, "clip": true},
       "encoding": {
         "x": {"field": "t", "type": "quantitative", "axis": {"orient": "bottom", "values": [0,200,400,600,800,1000,1200,1400,1600,1800,2000,2200,2400], "format": "d", "grid": true, "labels": true, "labelColor": "#7f7f7f", "labelFontSize": 12.5, "labelPadding": 8, "labelFlush": false, "labelOverlap": false, "ticks": false, "domain": false, "title": "Time [sec]", "titleColor": "#7f7f7f", "titleFontSize": 11.5, "titleFontWeight": "normal", "titlePadding": 3}},
         "y": {"field": "v", "type": "quantitative", "scale": {"domain": [40, 80], "nice": false, "zero": false}, "axis": {"values": [50, 60, 70], "grid": true, "labels": false, "ticks": false, "domain": false, "title": null}},
         "color": {"field": "s", "type": "nominal", "scale": {"domain": ["A","B","C","D"], "range": ["#000000","#0070C0","#70AD47","#ED7D31"]}, "legend": null}}},
      {"data": {"values": [{"v": 75.4, "k": "d"}, {"v": 68, "k": "p"}]}, "mark": {"type": "rule", "color": "#ff0000", "strokeWidth": 2},
       "encoding": {"y": {"field": "v", "type": "quantitative", "axis": null}, "strokeDash": {"field": "k", "type": "nominal", "scale": {"domain": ["d", "p"], "range": [[1, 0], [5, 3]]}, "legend": null}}},
      {"data": {"values": [{"t": 2149, "v": 79.7, "lab": "Durability Limit"}]}, "mark": {"type": "text", "align": "center", "baseline": "middle", "fontSize": 11, "fill": "#ffffff", "stroke": "#ffffff", "strokeWidth": 7, "strokeJoin": "round"},
       "encoding": {"x": {"field": "t", "type": "quantitative", "axis": null}, "y": {"field": "v", "type": "quantitative", "axis": null}, "text": {"field": "lab"}}},
      {"data": {"values": [{"t": 2149, "v": 79.7, "lab": "Durability Limit"}, {"t": 1816, "v": 70.9, "lab": "Protection Control (Engine Torque Suppression)"}]}, "mark": {"type": "text", "align": "center", "baseline": "middle", "fontSize": 11, "color": "#404040"},
       "encoding": {"x": {"field": "t", "type": "quantitative", "axis": null}, "y": {"field": "v", "type": "quantitative", "axis": null}, "text": {"field": "lab"}}},
      {"data": {"values": [{"t": 50.6, "lo": 50.5, "hi": 59.5}]}, "mark": {"type": "rule", "color": "#000000", "strokeWidth": 1.5},
       "encoding": {"x": {"field": "t", "type": "quantitative", "axis": null}, "y": {"field": "lo", "type": "quantitative", "axis": null}, "y2": {"field": "hi"}}},
      {"data": {"values": [{"t": 50.6, "v": 59, "sh": "triangle-up"}, {"t": 50.6, "v": 51, "sh": "triangle-down"}]}, "mark": {"type": "point", "filled": true, "color": "#000000", "size": 28, "opacity": 1},
       "encoding": {"x": {"field": "t", "type": "quantitative", "axis": null}, "y": {"field": "v", "type": "quantitative", "axis": null}, "shape": {"field": "sh", "type": "nominal", "scale": null}}},
      {"data": {"values": [{"t": 88, "v": 55.4, "lab": "10℃"}]}, "mark": {"type": "text", "align": "left", "baseline": "middle", "fontSize": 13, "color": "#262626"},
       "encoding": {"x": {"field": "t", "type": "quantitative", "axis": null}, "y": {"field": "v", "type": "quantitative", "axis": null}, "text": {"field": "lab"}}}
    ]
  }
]
}
